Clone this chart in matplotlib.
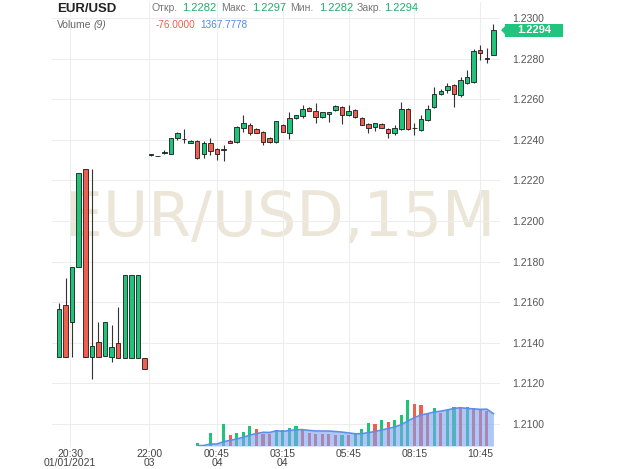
import numpy as np
import matplotlib
matplotlib.use("Agg")
import matplotlib.pyplot as plt
from matplotlib.patches import Rectangle, Polygon

plt.rcParams['font.family'] = ['Liberation Sans', 'DejaVu Sans']

# EUR/USD 15M candles (index = bar number on the category axis)
opens = [1.21330, 1.21586, 1.21502, 1.21773, 1.22256, 1.21330, 1.21404, 1.21335, 1.21330, 1.21399,
         1.21325, 1.21325, 1.21325, 1.21325,
         1.22325, 1.22320, 1.22335, 1.22330, 1.22409, 1.22404, 1.22384, 1.22394, 1.22330, 1.22384,
         1.22355, 1.22352, 1.22394, 1.22389, 1.22458, 1.22473, 1.22453, 1.22438, 1.22409, 1.22389,
         1.22473, 1.22434, 1.22507, 1.22517, 1.22557, 1.22542, 1.22512, 1.22527, 1.22547, 1.22562,
         1.22522, 1.22547, 1.22507, 1.22478, 1.22463, 1.22478, 1.22453, 1.22434, 1.22453, 1.22552,
         1.22458, 1.22448, 1.22498, 1.22562, 1.22626, 1.22645, 1.22670, 1.22621, 1.22680, 1.22685,
         1.22842, 1.22803, 1.22820]
highs = [1.21596, 1.21719, 1.21773, 1.22236, 1.22256, 1.22256, 1.21502, 1.21502, 1.21488, 1.21576,
         1.21734, 1.21734, 1.21734, 1.21325,
         1.22330, 1.22322, 1.22350, 1.22409, 1.22438, 1.22453, 1.22399, 1.22399, 1.22394, 1.22409,
         1.22360, 1.22374, 1.22399, 1.22468, 1.22522, 1.22483, 1.22458, 1.22443, 1.22414, 1.22493,
         1.22478, 1.22537, 1.22522, 1.22571, 1.22562, 1.22581, 1.22517, 1.22537, 1.22571, 1.22567,
         1.22571, 1.22552, 1.22512, 1.22483, 1.22483, 1.22483, 1.22458, 1.22473, 1.22586, 1.22557,
         1.22483, 1.22522, 1.22571, 1.22660, 1.22650, 1.22680, 1.22675, 1.22709, 1.22744, 1.22847,
         1.22867, 1.22852, 1.22970]
lows = [1.21330, 1.21330, 1.21330, 1.21773, 1.21330, 1.21222, 1.21330, 1.21335, 1.21305, 1.21325,
        1.21325, 1.21325, 1.21325, 1.21271,
        1.22320, 1.22318, 1.22330, 1.22330, 1.22399, 1.22384, 1.22384, 1.22305, 1.22310, 1.22325,
        1.22300, 1.22296, 1.22384, 1.22384, 1.22438, 1.22424, 1.22434, 1.22374, 1.22384, 1.22384,
        1.22438, 1.22404, 1.22502, 1.22507, 1.22542, 1.22483, 1.22507, 1.22488, 1.22542, 1.22478,
        1.22517, 1.22507, 1.22473, 1.22433, 1.22443, 1.22458, 1.22409, 1.22424, 1.22448, 1.22448,
        1.22424, 1.22443, 1.22493, 1.22557, 1.22621, 1.22630, 1.22562, 1.22611, 1.22675, 1.22680,
        1.22793, 1.22778, 1.22820]
closes = [1.21567, 1.21330, 1.21773, 1.22236, 1.21330, 1.21384, 1.21330, 1.21502, 1.21379, 1.21325,
          1.21734, 1.21734, 1.21734, 1.21271,
          1.22328, 1.22320, 1.22338, 1.22409, 1.22434, 1.22404, 1.22394, 1.22310, 1.22384, 1.22345,
          1.22330, 1.22355, 1.22384, 1.22463, 1.22483, 1.22434, 1.22434, 1.22389, 1.22389, 1.22493,
          1.22438, 1.22507, 1.22522, 1.22552, 1.22542, 1.22512, 1.22537, 1.22537, 1.22567, 1.22522,
          1.22542, 1.22512, 1.22473, 1.22458, 1.22483, 1.22458, 1.22434, 1.22458, 1.22552, 1.22453,
          1.22458, 1.22502, 1.22552, 1.22626, 1.22640, 1.22665, 1.22626, 1.22695, 1.22709, 1.22837,
          1.22828, 1.22800, 1.22940]

# volume only exists from bar 21 on
vol_first = 21
volumes = [140, 45, 560, 0, 915, 465, 560, 605, 845, 730, 520, 495, 660, 675, 775, 845,
           660, 560, 520, 495, 490, 465, 470, 460, 520, 705, 950, 935, 1085, 1025, 1085, 1295,
           1930, 1760, 1745, 1405, 1590, 1380, 1505, 1645, 1590, 1645, 1590, 1560, 1471, -76]
vol_ma = 9

tick_pos = [1.7, 13.7, 24, 34, 44, 54, 64]
tick_labels = ["20:30\n01/01/2021", "22:00\n03", "00:45\n04", "03:15\n04", "05:45", "08:15", "10:45"]
price_ticks = [1.2100, 1.2120, 1.2140, 1.2160, 1.2180, 1.2200, 1.2220, 1.2240, 1.2260, 1.2280, 1.2300]

GREEN = "#1fc47a"
RED = "#ef5f4f"
W, H = 620, 469

o, h, l, c = map(np.array, (opens, highs, lows, closes))
idx = np.arange(len(o))

fig = plt.figure(figsize=(W / 100, H / 100), dpi=100)
ax = fig.add_axes([52 / W, 23 / H, 448 / W, 444 / H])
axv = ax.twinx()
ax.set_xlim(-1.06, 67.0)
ax.set_ylim(1.20892, 1.23079)

# watermark
ax.text(0.508, 0.473, "EUR/USD,15M", transform=ax.transAxes, fontsize=44.5,
        family="DejaVu Sans", color="#ece6d8", ha="center", va="baseline", zorder=0)

# candles
up = c >= o
ax.vlines(idx, l, h, color="#333333", lw=0.8, zorder=2)
ax.bar(idx, np.abs(c - o), bottom=np.minimum(o, c), width=0.68,
       color=np.where(up, GREEN, RED), edgecolor="#1a1a1a", lw=0.6, zorder=3)

ax.set_xticks(tick_pos, tick_labels)
for lbl in ax.get_xticklabels():
    lbl.set_linespacing(0.95)
ax.yaxis.tick_right()
ax.set_yticks(price_ticks, [f"{p:.4f}" for p in price_ticks])
ax.tick_params(axis="x", length=0, pad=2, labelsize=7.5, labelcolor="#444444")
ax.tick_params(axis="y", length=0, pad=9, labelsize=7.5, labelcolor="#555555",
               left=False, labelleft=False, right=False, labelright=True)
ax.grid(color="#ededed", lw=0.8)
ax.set_axisbelow(True)
for s in ax.spines.values():
    s.set_visible(False)

# volume overlay with 9-bar moving average
v = np.array(volumes, dtype=float)
vx = idx[vol_first:vol_first + len(v)]
vcol = [GREEN if i == 0 or v[i] >= v[i - 1] else RED for i in range(len(v))]
ma = np.convolve(np.concatenate([np.zeros(vol_ma - 1), v]), np.ones(vol_ma) / vol_ma, mode="valid")
axv.set_ylim(0, 444 * 42.2)
axv.bar(vx, np.clip(v, 0, None), width=0.48, color=vcol, lw=0, zorder=2)
axv.fill_between(vx, ma, color="#7aa3f2", alpha=0.6, lw=0, zorder=3)
axv.plot(vx, ma, color="#5d8fea", lw=1.2, zorder=4)
axv.set_yticks([])
for s in axv.spines.values():
    s.set_visible(False)

# last price tag
ypix = ax.transData.transform((0, c[-1]))[1]
fig.patches.append(Rectangle((505 / W, (ypix - 6.5) / H), 58 / W, 13 / H, transform=fig.transFigure,
                             fc="#1fc47d", ec="none", zorder=5))
fig.patches.append(Polygon([(501 / W, ypix / H), (505 / W, (ypix + 4) / H), (505 / W, (ypix - 4) / H)],
                           closed=True, transform=fig.transFigure, fc="#1fc47d", ec="none", zorder=5))
fig.text(534 / W, ypix / H, f"{c[-1]:.4f}", color="white", fontsize=8, fontweight="bold",
         ha="center", va="center", zorder=6)


def ft(x, y, s, **kw):
    fig.text(x / W, 1 - y / H, s, va="baseline", **kw)


ft(57, 11.5, "EUR/USD", fontsize=9.5, fontweight="bold", color="#222222")
hdr = [("Откр.", 152, o[-1], 182), ("Макс.", 221, h[-1], 252),
       ("Мин.", 290, l[-1], 319), ("Закр.", 357, c[-1], 384)]
for name, xn, val, xv in hdr:
    ft(xn, 11, name, fontsize=7.5, color="#777777")
    ft(xv, 11, f"{val:.4f}", fontsize=8, color="#1fae6d")
ft(57, 28, "Volume", fontsize=7.5, color="#666666")
ft(94, 28, "(9)", fontsize=7.5, color="#666666", style="italic")
ft(156, 28, f"{v[-1]:.4f}", fontsize=7.2, color="#e8604f")
ft(200, 28, f"{ma[-1]:.4f}", fontsize=7.2, color="#4d86f0")

fig.savefig("out.png", dpi=100)
